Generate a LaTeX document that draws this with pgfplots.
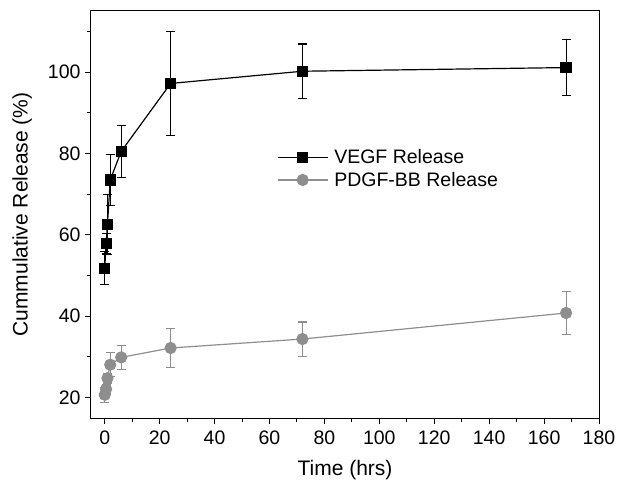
\documentclass[border=0pt]{standalone}
\usepackage{fontspec}
\setmainfont{Liberation Sans}
\usepackage{pgfplots}
\pgfplotsset{compat=1.18}
\definecolor{pdgfgray}{RGB}{142,142,142}

\begin{document}
\begin{tikzpicture}
\begin{axis}[
    scale only axis,
    width=508pt, height=407pt,
    xmin=-5, xmax=180,
    ymin=15, ymax=115,
    xtick={0,20,...,180},
    ytick={20,40,...,100},
    minor xtick={10,30,...,170},
    minor ytick={30,50,...,110},
    tick align=outside,
    major tick length=6pt,
    minor tick length=4pt,
    xtick pos=bottom, ytick pos=left,
    axis line style={line width=1pt},
    every tick/.style={line width=1pt, black},
    /pgf/number format/assume math mode=true,
    tick label style={font=\fontsize{19.5}{22}\selectfont},
    xticklabel style={yshift=-3pt},
    yticklabel style={xshift=-1pt},
    xlabel={Time (hrs)},
    ylabel={Cummulative Release (\%)},
    label style={font=\fontsize{21}{24}\selectfont},
    xlabel style={yshift=-9pt},
    ylabel style={yshift=9pt},
    legend style={draw=none, fill=none, at={(0.36,0.67)}, anchor=north west,
        font=\fontsize{19.5}{22}\selectfont, row sep=3pt},
    legend cell align=left,
    legend image code/.code={%
        \draw[mark repeat=2, mark phase=2, #1] plot coordinates {(0pt,0pt) (25pt,0pt) (50pt,0pt)};
        \path (54pt,0pt);},
]
\addplot[black, line width=1.2pt, mark=square*, mark size=5pt,
    error bars/.cd, y dir=both, y explicit,
    error bar style={line width=1.1pt},
    error mark options={rotate=90, mark size=4.5pt, line width=1.1pt}]
    table[x=t, y=r, y error=e] {
t   r     e
0   51.8  4.0
0.5 57.8  2.5
1   62.6  7.4
2   73.5  6.2
6   80.5  6.3
24  97.2  12.8
72  100.2 6.7
168 101.1 6.8
};
\addlegendentry{VEGF Release}
\addplot[pdgfgray, line width=1.2pt, mark=*, mark size=5.5pt,
    error bars/.cd, y dir=both, y explicit,
    error bar style={line width=1.1pt},
    error mark options={rotate=90, mark size=4.5pt, line width=1.1pt}]
    table[x=t, y=r, y error=e] {
t   r     e
0   20.7  1.8
0.5 22.1  1.0
1   24.8  1.2
2   28.1  3.0
6   29.9  3.0
24  32.2  4.9
72  34.4  4.2
168 40.8  5.3
};
\addlegendentry{PDGF-BB Release}
\end{axis}
\pgfresetboundingbox
\path[use as bounding box] ([xshift=-91pt,yshift=-67pt]current axis.south west) rectangle ++(617pt,485pt);
\end{tikzpicture}
\end{document}
